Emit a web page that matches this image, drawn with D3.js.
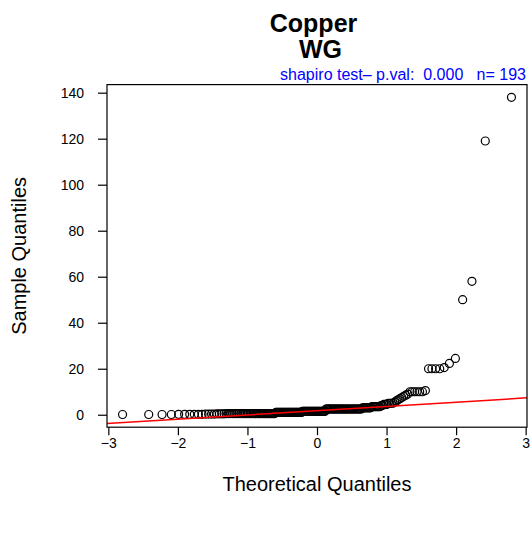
<!DOCTYPE html>
<html>
<head>
<meta charset="utf-8">
<script src="https://cdn.jsdelivr.net/npm/d3@7"></script>
<style>
  body { margin: 0; background: #fff; }
  text { font-family: "Liberation Sans", Arial, Helvetica, sans-serif; }
</style>
</head>
<body>
<div id="chart"></div>
<script>
// sorted sample values (Copper, WG), n = 193
const sampleQuantiles = [
  0.1, 0.1, 0.1, 0.1, 0.2, 0.2, 0.2, 0.2, 0.2, 0.2,
  0.3, 0.3, 0.3, 0.3, 0.4, 0.4, 0.4, 0.4,
  0.5, 0.5, 0.5, 0.5, 0.5, 0.5, 0.5, 0.5, 0.5, 0.5,
  0.5, 0.5, 0.5, 0.5, 0.5, 0.5, 0.5, 0.5, 0.5, 0.5,
  0.5, 0.5, 0.5, 0.5, 0.5, 0.5, 0.5, 0.5, 0.5, 0.5,
  0.5, 0.5, 0.5, 0.5, 0.5,
  1, 1, 1, 1, 1, 1, 1, 1, 1, 1,
  1, 1, 1, 1, 1, 1, 1, 1, 1, 1,
  1, 1, 1, 1, 1, 1, 1,
  1.5, 1.5, 1.5, 1.5, 1.5, 1.5, 1.5, 1.5, 1.5, 1.5,
  1.5, 1.5, 1.5, 1.5, 1.5, 1.5, 1.5, 1.5, 1.5, 1.5,
  1.5, 1.5, 1.5, 1.5, 1.5, 1.5,
  2.5, 2.5, 2.5, 2.5, 2.5, 2.5, 2.5, 2.5, 2.5, 2.5,
  2.5, 2.5, 2.5, 2.5, 2.5, 2.5, 2.5, 2.5, 2.5, 2.5,
  2.5, 2.5, 2.5, 2.5, 2.5, 2.5, 2.5, 2.5, 2.5, 2.5,
  2.5, 2.5, 2.5, 2.5, 2.5, 2.5, 2.5,
  3, 3, 3, 3, 3, 3, 3, 3,
  3.5, 3.5, 3.5, 3.5, 3.5, 3.5, 3.5,
  4, 4, 4.5, 4.5, 4.5, 5, 5, 5, 5,
  5.5, 6, 6.5, 7, 7.5, 8, 8.5, 9,
  10, 10, 10, 10, 10, 10, 10.5,
  20, 20, 20, 20, 20.5,
  22.3, 24.5, 50, 58, 119, 138
];
const xTicks = [-3, -2, -1, 0, 1, 2, 3];
const yTicks = [0, 20, 40, 60, 80, 100, 120, 140];
const titleLines = ["Copper ", " WG"];
const subTitle = "shapiro test\u2013 p.val:  0.000   n= 193";

// inverse normal cdf (Acklam)
function qnorm(p) {
  const a = [-39.69683028665376, 220.9460984245205, -275.9285104469687, 138.3577518672690, -30.66479806614716, 2.506628277459239];
  const b = [-54.47609879822406, 161.5858368580409, -155.6989798598866, 66.80131188771972, -13.28068155288572];
  const c = [-0.007784894002430293, -0.3223964580411365, -2.400758277161838, -2.549732539343734, 4.374664141464968, 2.938163982698783];
  const d = [0.007784695709041462, 0.3224671290700398, 2.445134137142996, 3.754408661907416];
  const pl = 0.02425;
  let q, r;
  if (p < pl) {
    q = Math.sqrt(-2 * Math.log(p));
    return (((((c[0]*q+c[1])*q+c[2])*q+c[3])*q+c[4])*q+c[5]) / ((((d[0]*q+d[1])*q+d[2])*q+d[3])*q+1);
  } else if (p <= 1 - pl) {
    q = p - 0.5; r = q * q;
    return (((((a[0]*r+a[1])*r+a[2])*r+a[3])*r+a[4])*r+a[5])*q / (((((b[0]*r+b[1])*r+b[2])*r+b[3])*r+b[4])*r+1);
  } else {
    q = Math.sqrt(-2 * Math.log(1 - p));
    return -(((((c[0]*q+c[1])*q+c[2])*q+c[3])*q+c[4])*q+c[5]) / ((((d[0]*q+d[1])*q+d[2])*q+d[3])*q+1);
  }
}

const n = sampleQuantiles.length;
const points = sampleQuantiles.map((v, i) => ({ tq: qnorm((i + 1 - 0.5) / n), sq: v }));

const width = 532, height = 533;
const box = { left: 107, right: 527, top: 84.6, bottom: 427.2 };

function padded(ext) {
  const d = (ext[1] - ext[0]) * 0.04;
  return [ext[0] - d, ext[1] + d];
}

const x = d3.scaleLinear().domain(padded(d3.extent(points, d => d.tq))).range([box.left, box.right]);
const y = d3.scaleLinear().domain(padded(d3.extent(points, d => d.sq))).range([box.bottom, box.top]);

const svg = d3.select("#chart").append("svg")
  .attr("width", width)
  .attr("height", height);

svg.append("rect").attr("width", width).attr("height", height).attr("fill", "#fff");

svg.append("defs").append("clipPath").attr("id", "plotclip")
  .append("rect")
  .attr("x", box.left).attr("y", box.top)
  .attr("width", box.right - box.left).attr("height", box.bottom - box.top);

// points
svg.append("g").selectAll("circle")
  .data(points)
  .enter().append("circle")
  .attr("cx", d => x(d.tq))
  .attr("cy", d => y(d.sq))
  .attr("r", 4)
  .attr("fill", "none")
  .attr("stroke", "#000")
  .attr("stroke-width", 1.2);

// qqline through the quartiles
const sorted = sampleQuantiles.slice().sort(d3.ascending);
const q1 = d3.quantile(sorted, 0.25), q3 = d3.quantile(sorted, 0.75);
const z1 = qnorm(0.25), z3 = qnorm(0.75);
const slope = (q3 - q1) / (z3 - z1);
const intercept = q1 - slope * z1;
const xd = x.domain();
svg.append("line")
  .attr("clip-path", "url(#plotclip)")
  .attr("x1", x(xd[0] - 1)).attr("y1", y(intercept + slope * (xd[0] - 1)))
  .attr("x2", x(xd[1] + 1)).attr("y2", y(intercept + slope * (xd[1] + 1)))
  .attr("stroke", "#ff0000")
  .attr("stroke-width", 1.5);

// box
svg.append("rect")
  .attr("x", box.left).attr("y", box.top)
  .attr("width", box.right - box.left).attr("height", box.bottom - box.top)
  .attr("fill", "none").attr("stroke", "#000").attr("stroke-width", 1.2);

// axes
const xAxis = svg.append("g")
  .attr("transform", `translate(0,${box.bottom})`)
  .call(d3.axisBottom(x).tickValues(xTicks).tickSize(8).tickSizeOuter(0).tickPadding(3).tickFormat(d3.format("")));
const yAxis = svg.append("g")
  .attr("transform", `translate(${box.left},0)`)
  .call(d3.axisLeft(y).tickValues(yTicks).tickSize(9).tickSizeOuter(0).tickPadding(14).tickFormat(d3.format("")));
[xAxis, yAxis].forEach(g => {
  g.select(".domain").remove();
  g.selectAll(".tick line").attr("stroke", "#000").attr("stroke-width", 1.2);
  g.selectAll(".tick text")
    .attr("fill", "#000")
    .style("font-size", "14px")
    .style("font-family", "'Liberation Sans', Arial, sans-serif");
});

// titles (lines keep their padding spaces, as in the original)
svg.append("g").selectAll("text")
  .data(titleLines)
  .enter().append("text")
  .attr("x", x(0))
  .attr("y", (d, i) => 32 + i * 26)
  .attr("text-anchor", "middle")
  .attr("xml:space", "preserve")
  .style("white-space", "pre")
  .style("font-size", "25px")
  .style("font-weight", "bold")
  .text(d => d);

svg.append("text")
  .attr("x", box.right - 1)
  .attr("y", 80)
  .attr("text-anchor", "end")
  .attr("fill", "#0000ff")
  .attr("xml:space", "preserve")
  .style("white-space", "pre")
  .style("font-size", "16px")
  .text(subTitle);

svg.append("text")
  .attr("x", x(0))
  .attr("y", 491)
  .attr("text-anchor", "middle")
  .style("font-size", "20px")
  .text("Theoretical Quantiles");

svg.append("text")
  .attr("transform", `translate(26,${(box.top + box.bottom) / 2}) rotate(-90)`)
  .attr("text-anchor", "middle")
  .style("font-size", "20px")
  .text("Sample Quantiles");
</script>
</body>
</html>
